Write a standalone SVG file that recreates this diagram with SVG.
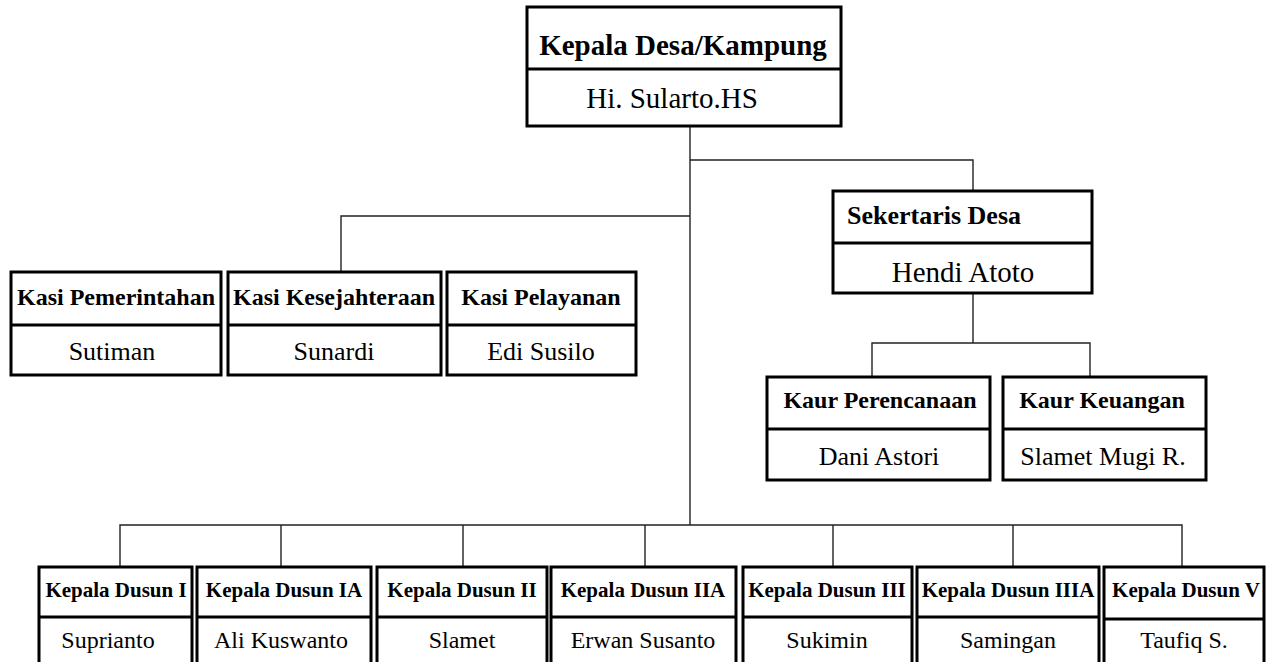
<svg xmlns="http://www.w3.org/2000/svg" width="1278" height="662" viewBox="0 0 1278 662">
<style>
.box{fill:#fff;stroke:#000;stroke-width:3}
.div{stroke:#000;stroke-width:3}
.con{fill:none;stroke:#222;stroke-width:1.4}
text{font-family:"Liberation Serif","Times New Roman",serif;fill:#000;text-anchor:middle;font-weight:400}
.t29{font-size:29px;font-weight:700}
.t26{font-size:26px;font-weight:700}
.t24{font-size:24px;font-weight:700}
.t21{font-size:21px;font-weight:700}
.n29{font-size:29px}
.n26{font-size:26px}
.n24{font-size:24px}
</style>
<rect width="1278" height="662" fill="#fff"/>
<g id="connectors">
<path class="con" d="M690,126 V525"/>
<path class="con" d="M690,160 H973 V191"/>
<path class="con" d="M341,272 V216 H690"/>
<path class="con" d="M973,293 V343"/>
<path class="con" d="M872,377 V343 H1090 V377"/>
<path class="con" d="M120,567 V525 H1182 V567"/>
<path class="con" d="M281,525 V567 M463,525 V567 M645,525 V567 M833,525 V567 M1013,525 V567"/>
</g>
<g id="kepala-desa">
<rect class="box" x="527" y="7" width="314" height="119"/>
<line class="div" x1="527" y1="69" x2="841" y2="69"/>
<text class="t29" x="683" y="55">Kepala Desa/Kampung</text>
<text class="n29" x="672" y="108">Hi. Sularto.HS</text>
</g>
<g id="sekertaris">
<rect class="box" x="833" y="191" width="259" height="102"/>
<line class="div" x1="833" y1="243" x2="1092" y2="243"/>
<text class="t26" x="847" y="224" style="text-anchor:start">Sekertaris Desa</text>
<text class="n29" x="963" y="282">Hendi Atoto</text>
</g>
<g id="kasi-pemerintahan">
<rect class="box" x="11" y="272" width="210" height="103"/>
<line class="div" x1="11" y1="325" x2="221" y2="325"/>
<text class="t24" x="116" y="305">Kasi Pemerintahan</text>
<text class="n26" x="112" y="360">Sutiman</text>
</g>
<g id="kasi-kesejahteraan">
<rect class="box" x="228" y="272" width="213" height="103"/>
<line class="div" x1="228" y1="325" x2="441" y2="325"/>
<text class="t24" x="334" y="305">Kasi Kesejahteraan</text>
<text class="n26" x="334" y="360">Sunardi</text>
</g>
<g id="kasi-pelayanan">
<rect class="box" x="447" y="272" width="189" height="103"/>
<line class="div" x1="447" y1="325" x2="636" y2="325"/>
<text class="t24" x="541" y="305">Kasi Pelayanan</text>
<text class="n26" x="541" y="360">Edi Susilo</text>
</g>
<g id="kaur-perencanaan">
<rect class="box" x="767" y="377" width="223" height="103"/>
<line class="div" x1="767" y1="429" x2="990" y2="429"/>
<text class="t24" x="880" y="408">Kaur Perencanaan</text>
<text class="n26" x="879" y="465">Dani Astori</text>
</g>
<g id="kaur-keuangan">
<rect class="box" x="1003" y="377" width="203" height="103"/>
<line class="div" x1="1003" y1="429" x2="1206" y2="429"/>
<text class="t24" x="1102" y="408">Kaur Keuangan</text>
<text class="n26" x="1103" y="465">Slamet Mugi R.</text>
</g>
<g id="dusun-1">
<rect class="box" x="39" y="567" width="153" height="110"/>
<line class="div" x1="39" y1="617" x2="192" y2="617"/>
<text class="t21" x="116" y="597">Kepala Dusun I</text>
<text class="n24" x="108" y="648">Suprianto</text>
</g>
<g id="dusun-1a">
<rect class="box" x="197" y="567" width="174" height="110"/>
<line class="div" x1="197" y1="617" x2="371" y2="617"/>
<text class="t21" x="284" y="597">Kepala Dusun IA</text>
<text class="n24" x="281" y="648">Ali Kuswanto</text>
</g>
<g id="dusun-2">
<rect class="box" x="377" y="567" width="170" height="110"/>
<line class="div" x1="377" y1="617" x2="547" y2="617"/>
<text class="t21" x="462" y="597">Kepala Dusun II</text>
<text class="n24" x="462" y="648">Slamet</text>
</g>
<g id="dusun-2a">
<rect class="box" x="551" y="567" width="185" height="110"/>
<line class="div" x1="551" y1="617" x2="736" y2="617"/>
<text class="t21" x="643" y="597">Kepala Dusun IIA</text>
<text class="n24" x="643" y="648">Erwan Susanto</text>
</g>
<g id="dusun-3">
<rect class="box" x="743" y="567" width="169" height="110"/>
<line class="div" x1="743" y1="617" x2="912" y2="617"/>
<text class="t21" x="827" y="597">Kepala Dusun III</text>
<text class="n24" x="827" y="648">Sukimin</text>
</g>
<g id="dusun-3a">
<rect class="box" x="917" y="567" width="182" height="110"/>
<line class="div" x1="917" y1="617" x2="1099" y2="617"/>
<text class="t21" x="1008" y="597">Kepala Dusun IIIA</text>
<text class="n24" x="1008" y="648">Samingan</text>
</g>
<g id="dusun-5">
<rect class="box" x="1104" y="567" width="160" height="110"/>
<line class="div" x1="1104" y1="619" x2="1264" y2="619"/>
<text class="t21" x="1186" y="597">Kepala Dusun V</text>
<text class="n24" x="1184" y="648">Taufiq S.</text>
</g>
</svg>
